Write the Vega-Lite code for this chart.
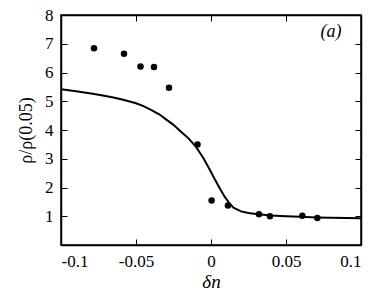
{
  "$schema": "https://vega.github.io/schema/vega-lite/v6.json",
  "width": 300,
  "height": 230,
  "autosize": {"type": "none"},
  "padding": {"left": 61, "top": 15, "right": 21, "bottom": 59},
  "background": "white",
  "config": {
    "view": {"stroke": "black", "strokeWidth": 1.5}
  },
  "datasets": {
    "curve": [
      {"dn": -0.1, "r": 5.42}, {"dn": -0.09, "r": 5.35}, {"dn": -0.08, "r": 5.27},
      {"dn": -0.074, "r": 5.22}, {"dn": -0.065, "r": 5.13}, {"dn": -0.0585, "r": 5.05},
      {"dn": -0.05, "r": 4.93}, {"dn": -0.045, "r": 4.83}, {"dn": -0.04, "r": 4.7},
      {"dn": -0.034, "r": 4.53}, {"dn": -0.03, "r": 4.37}, {"dn": -0.025, "r": 4.18},
      {"dn": -0.02, "r": 3.94}, {"dn": -0.015, "r": 3.71}, {"dn": -0.01, "r": 3.41},
      {"dn": -0.005, "r": 3.02}, {"dn": 0.0, "r": 2.54}, {"dn": 0.003, "r": 2.24},
      {"dn": 0.006, "r": 1.96}, {"dn": 0.009, "r": 1.69}, {"dn": 0.012, "r": 1.47},
      {"dn": 0.015, "r": 1.3}, {"dn": 0.02, "r": 1.17}, {"dn": 0.025, "r": 1.11},
      {"dn": 0.03, "r": 1.08}, {"dn": 0.04, "r": 1.03}, {"dn": 0.05, "r": 1.0},
      {"dn": 0.06, "r": 0.98}, {"dn": 0.07, "r": 0.96}, {"dn": 0.08, "r": 0.945},
      {"dn": 0.09, "r": 0.935}, {"dn": 0.1, "r": 0.93}
    ],
    "points": [
      {"dn": -0.078, "r": 6.84}, {"dn": -0.058, "r": 6.65}, {"dn": -0.047, "r": 6.21},
      {"dn": -0.038, "r": 6.19}, {"dn": -0.028, "r": 5.47}, {"dn": -0.009, "r": 3.5},
      {"dn": 0.0004, "r": 1.55}, {"dn": 0.0113, "r": 1.37}, {"dn": 0.032, "r": 1.07},
      {"dn": 0.0393, "r": 1.0}, {"dn": 0.0609, "r": 1.02}, {"dn": 0.0709, "r": 0.94}
    ],
    "label": [{"dn": 0.08, "r": 7.42, "t": "(a)"}]
  },
  "layer": [
    {
      "data": {"name": "curve"},
      "mark": {"type": "line", "color": "black", "strokeWidth": 2, "clip": true},
      "encoding": {
        "x": {"field": "dn", "type": "quantitative",
          "scale": {"domain": [-0.1, 0.1], "nice": false, "zero": false},
          "axis": {"orient": "bottom", "values": [-0.1, -0.05, 0, 0.05, 0.1],
            "labelExpr": "'' + datum.value", "labelPadding": 14, "title": "δn", "titlePadding": 3,
            "titleFontStyle": "italic", "grid": false,
            "domainColor": "black", "domainWidth": 1.5, "tickColor": "black", "tickSize": -6,
            "labelFont": "Liberation Serif", "labelFontSize": 17, "labelColor": "black",
            "titleFont": "Liberation Serif", "titleFontSize": 19, "titleFontWeight": "normal", "titleColor": "black"}},
        "y": {"field": "r", "type": "quantitative",
          "scale": {"domain": [0, 8], "nice": false, "zero": false},
          "axis": {"orient": "left", "values": [1, 2, 3, 4, 5, 6, 7, 8],
            "labelPadding": 14, "title": "ρ/ρ(0.05)", "titlePadding": 9, "grid": false,
            "domainColor": "black", "domainWidth": 1.5, "tickColor": "black", "tickSize": -6,
            "labelFont": "Liberation Serif", "labelFontSize": 17, "labelColor": "black",
            "titleFont": "Liberation Serif", "titleFontSize": 18, "titleFontWeight": "normal", "titleColor": "black"}}
      }
    },
    {
      "data": {"name": "points"},
      "mark": {"type": "point", "filled": true, "color": "black", "opacity": 1, "size": 42},
      "encoding": {
        "x": {"field": "dn", "type": "quantitative",
          "scale": {"domain": [-0.1, 0.1], "nice": false, "zero": false},
          "axis": {"orient": "top", "values": [-0.1, -0.05, 0, 0.05, 0.1], "labels": false, "title": null,
            "grid": false, "domainColor": "black", "domainWidth": 1.5, "tickColor": "black", "tickSize": -6}},
        "y": {"field": "r", "type": "quantitative",
          "scale": {"domain": [0, 8], "nice": false, "zero": false},
          "axis": {"orient": "right", "values": [1, 2, 3, 4, 5, 6, 7, 8], "labels": false, "title": null,
            "grid": false, "domainColor": "black", "domainWidth": 1.5, "tickColor": "black", "tickSize": -6}}
      }
    },
    {
      "data": {"name": "label"},
      "mark": {"type": "text", "fontStyle": "italic", "fontSize": 18, "color": "black", "font": "Liberation Serif"},
      "encoding": {
        "x": {"field": "dn", "type": "quantitative", "axis": null},
        "y": {"field": "r", "type": "quantitative", "axis": null},
        "text": {"field": "t"}
      }
    }
  ],
  "resolve": {"axis": {"x": "independent", "y": "independent"}}
}
